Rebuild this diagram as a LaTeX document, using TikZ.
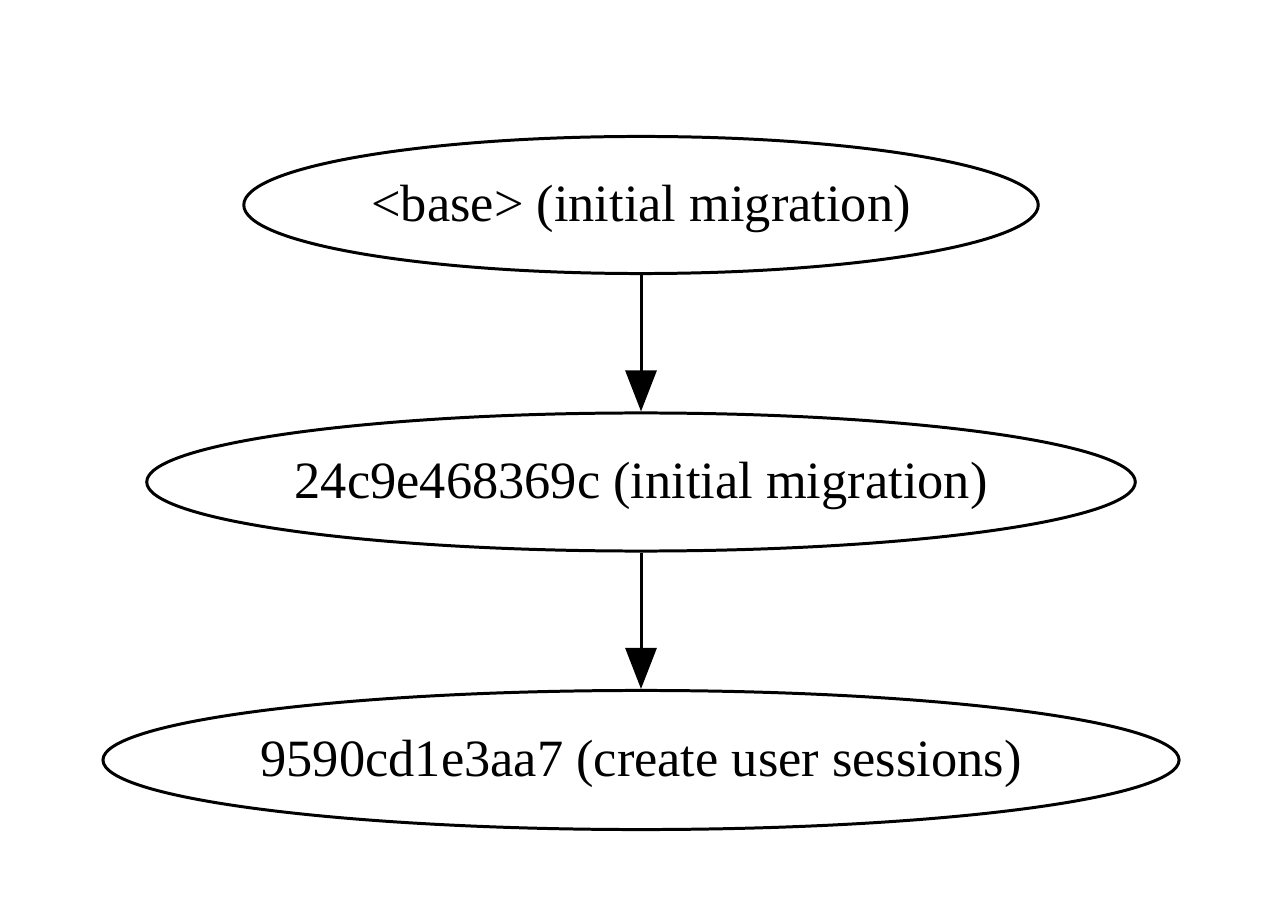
\documentclass[tikz,border=0pt]{standalone}
\usepackage{fontspec}
\setmainfont{Liberation Serif}
\usetikzlibrary{shapes.geometric,arrows.meta}
\tikzset{
  rev/.style={draw, ellipse, line width=0.85pt, inner sep=0pt,
    text height=0.42cm, text depth=0.10cm,
    font=\fontsize{14.9}{18}\selectfont},
  edge/.style={line width=0.85pt, -{Triangle[length=0.41cm,width=0.31cm]}}
}
\begin{document}
\begin{tikzpicture}[x=0.01cm,y=0.01cm]
    \useasboundingbox (0,0) rectangle (1280,903);
    % revisions
    \node[rev, minimum width=7.94cm, minimum height=1.37cm] (base) at (641,698) {<base> (initial migration)};
    \node[rev, minimum width=9.88cm, minimum height=1.38cm] (init) at (641,421) {24c9e468369c (initial migration)};
    \node[rev, minimum width=10.74cm, minimum height=1.39cm] (sess) at (641,143) {9590cd1e3aa7 (create user sessions)};
    % upgrades
    \draw[edge] (base) -- (init);
    \draw[edge] (init) -- (sess);
\end{tikzpicture}
\end{document}
